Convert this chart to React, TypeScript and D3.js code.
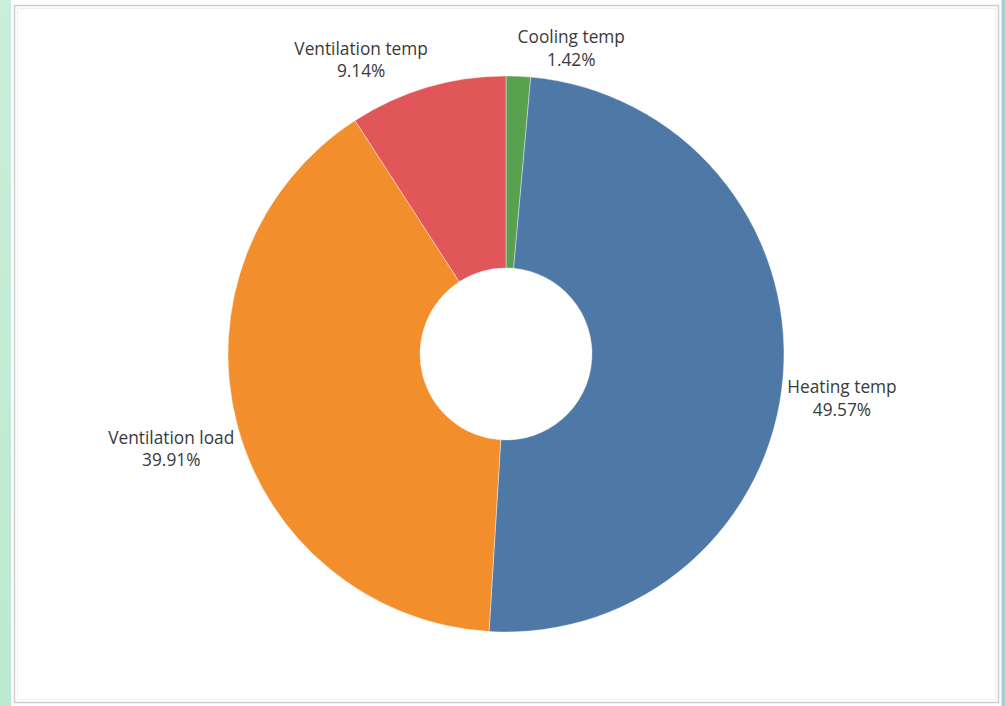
import React from "react";
import * as d3 from "d3";

const categories = ["Cooling temp", "Heating temp", "Ventilation load", "Ventilation temp"];
const percents = [1.42, 49.57, 39.91, 9.14];
const colors = ["#59a14f", "#4e79a7", "#f28e2b", "#e15759"];

const W = 1005;
const H = 706;
const CX = 506;
const CY = 354;
const R_OUT = 278;
const R_IN = 86;
const FONT = "'Open Sans', 'Noto Sans', sans-serif";
const FS = 17.3;
const LINE = 22.5;

function measure(text: string): number {
  if (typeof document === "undefined") return text.length * FS * 0.5;
  const c = document.createElement("canvas");
  const ctx = c.getContext("2d");
  if (!ctx) return text.length * FS * 0.5;
  ctx.font = `${FS}px 'Open Sans'`;
  return ctx.measureText(text).width;
}

export default function App() {
  const data = categories.map((c, i) => ({ name: c, value: percents[i], color: colors[i] }));
  const pie = d3
    .pie<any>()
    .value((d) => d.value)
    .sort(null)
    .startAngle(0)
    .endAngle(2 * Math.PI);
  const arcs = pie(data);
  const arcGen = d3.arc<any>().innerRadius(R_IN).outerRadius(R_OUT);

  const labels = arcs.map((a) => {
    const mid = (a.startAngle + a.endAngle) / 2;
    const rr = R_OUT + 5;
    const px = Math.sin(mid) * rr;
    const py = -Math.cos(mid) * rr;
    const l1 = a.data.name;
    const l2 = `${a.data.value.toFixed(2)}%`;
    const w = Math.max(measure(l1), measure(l2));
    const boxH = 46;
    const left = Math.sin(mid) >= 0 ? px - 1 : px - w + 2;
    const top = Math.cos(mid) > 0 ? py - boxH : py;
    return { cx: left + w / 2, b1: top + 18, b2: top + 18 + LINE, l1, l2 };
  });

  return (
    <svg
      width={W}
      height={H}
      style={{ position: "absolute", left: 0, top: 0, display: "block" }}
      xmlns="http://www.w3.org/2000/svg"
    >
      <defs>
        <linearGradient id="gstrip" x1="0" y1="0" x2="0" y2="1">
          <stop offset="0" stopColor="#cbeddb" />
          <stop offset="1" stopColor="#bce9d2" />
        </linearGradient>
      </defs>
      <rect x={0} y={0} width={W} height={H} fill="#ffffff" />
      <rect x={0} y={0} width={11} height={H} fill="url(#gstrip)" />
      <rect x={1001.5} y={0} width={3.5} height={H} fill="#98d5cf" />
      <rect x={14.5} y={5.5} width={984} height={697} fill="#ffffff" stroke="#cdcdcd" strokeWidth={1.5} />
      <rect x={17.5} y={8.5} width={978} height={691} fill="none" stroke="#f0f0f0" strokeWidth={1} />
      <g transform={`translate(${CX},${CY})`}>
        {arcs.map((a, i) => (
          <path key={i} d={arcGen(a) as string} fill={a.data.color} stroke="#ffffff" strokeWidth={0.4} />
        ))}
        {labels.map((l, i) => (
          <g key={i} fontFamily={FONT} fontSize={FS} fill="#3a3a3a" textAnchor="middle">
            <text x={l.cx} y={l.b1}>{l.l1}</text>
            <text x={l.cx} y={l.b2}>{l.l2}</text>
          </g>
        ))}
      </g>
    </svg>
  );
}
